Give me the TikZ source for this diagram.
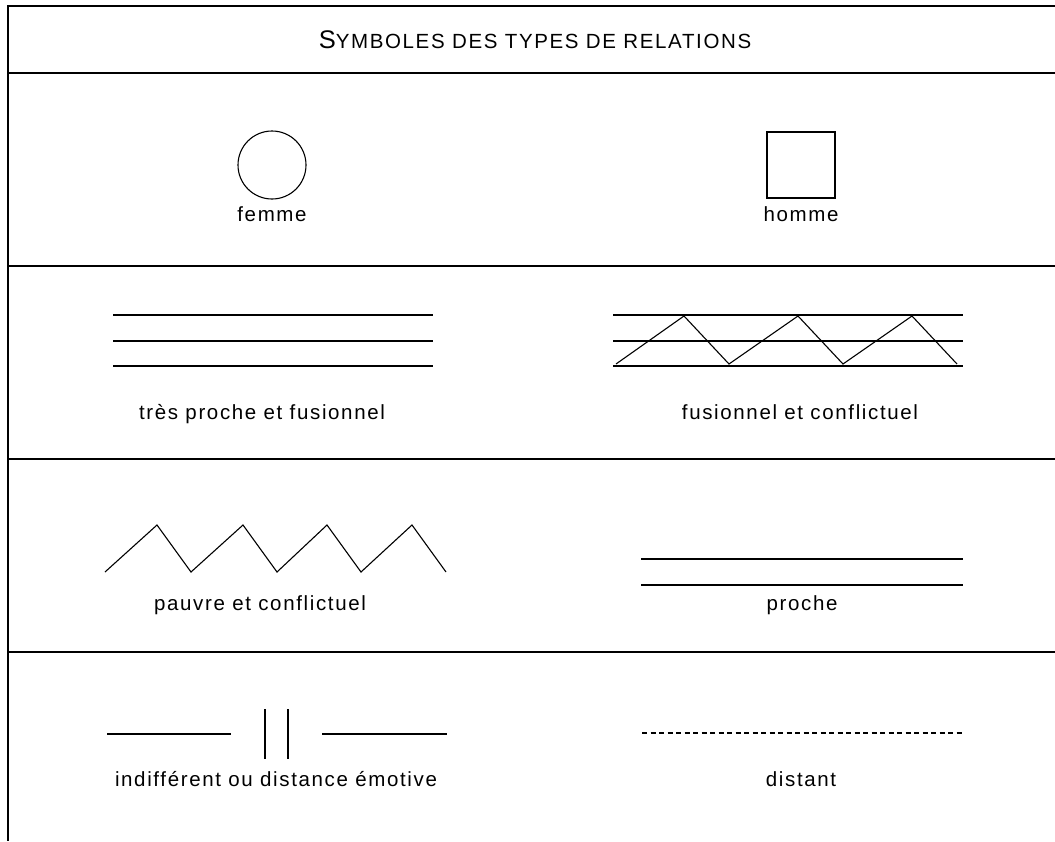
\documentclass[tikz,border=0pt]{standalone}
\usepackage{fontspec}
\setmainfont{Liberation Sans}[LetterSpace=8]
\begin{document}
\begin{tikzpicture}[x=1pt,y=-1pt,
  frame/.style={line width=1.3pt},
  sym/.style={line width=1.1pt, line join=miter},
  lab/.style={font=\fontsize{20.5}{24}\selectfont, inner sep=0pt, anchor=base},
  dist/.style={line width=2.5pt, dash pattern=on 5pt off 3.5pt}]
\useasboundingbox (0,0) rectangle (1055,841);
% frame
\coordinate (L0) at (8,5.35); \coordinate (L1) at (8,841);
\draw[frame] (L0) -- (L1);
\foreach \y/\n in {6/a,73/b,266/c,459/d,652/e}{
  \coordinate (h\n l) at (7.35,\y); \coordinate (h\n r) at (1055,\y);
  \draw[frame] (h\n l) -- (h\n r);
}
% title
\node[inner sep=0pt, anchor=base] (title) at (535,48)
  {{\fontsize{25.5}{28}\selectfont S}{\fontsize{20.5}{23}\selectfont YMBOLES DES TYPES DE RELATIONS}};
% row 1
\node[sym, draw, circle, minimum size=68pt, inner sep=0pt] (femme) at (272,165) {};
\node[lab] (femmelab) at (272,221) {femme};
\node[sym, draw, rectangle, minimum width=68pt, minimum height=66pt, inner sep=0pt] (homme) at (801,165) {};
\node[lab] (hommelab) at (801,221) {homme};
% row 2 left
\foreach \y/\n in {315/1,341/2,366/3}{
  \coordinate (tl\n) at (113,\y); \coordinate (tr\n) at (433,\y);
  \draw[sym] (tl\n) -- (tr\n);
}
\node[lab] (tres) at (262,419) {très proche et fusionnel};
% row 2 right
\foreach \y/\n in {315/1,341/2,366/3}{
  \coordinate (fl\n) at (613,\y); \coordinate (fr\n) at (963,\y);
  \draw[sym] (fl\n) -- (fr\n);
}
\coordinate (z0) at (616,364); \coordinate (z1) at (684,316);
\coordinate (z2) at (729,364); \coordinate (z3) at (798,316);
\coordinate (z4) at (843,364); \coordinate (z5) at (912,316);
\coordinate (z6) at (957,364);
\draw[sym] (z0) -- (z1) -- (z2) -- (z3) -- (z4) -- (z5) -- (z6);
\node[lab] (fusion) at (800,419) {fusionnel et conflictuel};
% row 3 left
\coordinate (p0) at (105,572); \coordinate (p1) at (157,525);
\coordinate (p2) at (191,572); \coordinate (p3) at (243,525);
\coordinate (p4) at (277,572); \coordinate (p5) at (327,525);
\coordinate (p6) at (361,572); \coordinate (p7) at (412,525);
\coordinate (p8) at (446,572);
\draw[sym] (p0) -- (p1) -- (p2) -- (p3) -- (p4) -- (p5) -- (p6) -- (p7) -- (p8);
\node[lab] (pauvre) at (260,610) {pauvre et conflictuel};
% row 3 right
\foreach \y/\n in {559/1,585/2}{
  \coordinate (ql\n) at (641,\y); \coordinate (qr\n) at (963,\y);
  \draw[sym] (ql\n) -- (qr\n);
}
\node[lab] (proche) at (802,610) {proche};
% row 4 left
\coordinate (i0) at (107,734); \coordinate (i1) at (231,734);
\coordinate (i2) at (322,734); \coordinate (i3) at (447,734);
\coordinate (v1t) at (265,709); \coordinate (v1b) at (265,759);
\coordinate (v2t) at (288,709); \coordinate (v2b) at (288,759);
\draw[sym] (i0) -- (i1);
\draw[sym] (i2) -- (i3);
\draw[sym] (v1t) -- (v1b);
\draw[sym] (v2t) -- (v2b);
\node[lab] (indiff) at (276,786) {indifférent ou distance émotive};
% row 4 right
\coordinate (d0) at (642,733); \coordinate (d1) at (963,733);
\draw[dist] (d0) -- (d1);
\node[lab] (distant) at (801,786) {distant};
\end{tikzpicture}
\end{document}
